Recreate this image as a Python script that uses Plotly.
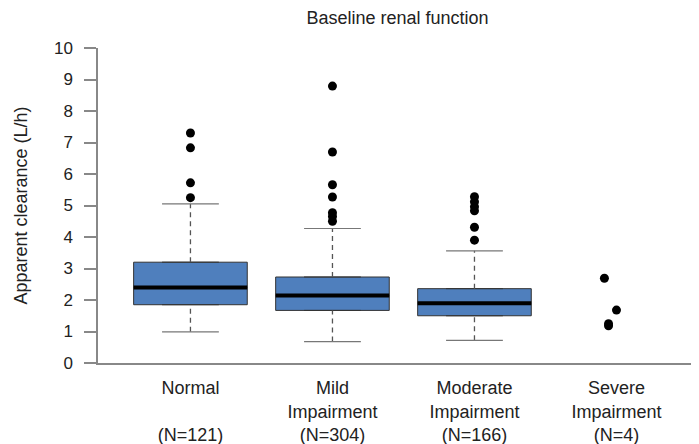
import plotly.graph_objects as go

categories = ["Normal", "Mild<br>Impairment", "Moderate<br>Impairment", "Severe<br>Impairment"]
counts = [121, 304, 166, 4]
positions = [1, 2, 3]  # groups drawn as boxes
q1 = [1.85, 1.67, 1.50]
median = [2.40, 2.14, 1.90]
q3 = [3.20, 2.73, 2.36]
lower_whisker = [0.99, 0.68, 0.72]
upper_whisker = [5.05, 4.27, 3.56]
outliers = [
    [7.30, 6.83, 5.72, 5.25],
    [8.79, 6.70, 5.66, 5.27, 4.77, 4.65, 4.50],
    [5.28, 5.12, 4.96, 4.83, 4.31, 3.90],
]
severe_values = [2.69, 1.68, 1.25, 1.18]
severe_jitter = [-0.085, 0.0, -0.056, -0.056]
severe_pos = 4

box_color = "#4F7FBD"
box_half = 0.4
cap_half = 0.2

fig = go.Figure()

# whiskers (dashed) and caps (solid)
for p, lo, hi, a, b in zip(positions, lower_whisker, upper_whisker, q1, q3):
    fig.add_trace(go.Scatter(x=[p, p, None, p, p], y=[b, hi, None, lo, a], mode="lines",
                             line=dict(color="#555555", width=1.3, dash="5px,4px"),
                             showlegend=False, hoverinfo="skip"))
    fig.add_trace(go.Scatter(x=[p - cap_half, p + cap_half, None, p - cap_half, p + cap_half],
                             y=[hi, hi, None, lo, lo], mode="lines",
                             line=dict(color="#777777", width=1.2),
                             showlegend=False, hoverinfo="skip"))

# boxes
fig.add_trace(go.Box(x=positions, q1=q1, median=median, q3=q3,
                     lowerfence=q1, upperfence=q3, width=2 * box_half,
                     fillcolor=box_color, line=dict(color="#333333", width=1),
                     boxpoints=False, showlegend=False, hoverinfo="skip"))

# medians
for p, m in zip(positions, median):
    fig.add_trace(go.Scatter(x=[p - box_half, p + box_half], y=[m, m], mode="lines",
                             line=dict(color="black", width=4),
                             showlegend=False, hoverinfo="skip"))

# outliers
for p, outs in zip(positions, outliers):
    fig.add_trace(go.Scatter(x=[p] * len(outs), y=outs, mode="markers",
                             marker=dict(color="black", size=9),
                             showlegend=False))

fig.add_trace(go.Scatter(x=[severe_pos + j for j in severe_jitter], y=severe_values,
                         mode="markers", marker=dict(color="black", size=9),
                         showlegend=False))

ticktext = [f"{c}<br>(N={n})" if "<br>" in c else f"{c}<br> <br>(N={n})"
            for c, n in zip(categories, counts)]

# page body has an 8px margin, so the figure is 8px smaller than the window
fig.update_layout(
    width=691, height=436,
    margin=dict(l=90, r=2, t=40, b=81),
    paper_bgcolor="white", plot_bgcolor="white",
    font=dict(family="Liberation Sans, Arial, sans-serif", color="#222222", size=18),
    title=dict(text="Baseline renal function", xref="paper", x=0.5, xanchor="center",
               y=0.977, yanchor="middle", font=dict(size=18)),
    xaxis=dict(range=[0.349, 4.567], tickvals=[1, 2, 3, 4], ticktext=ticktext,
               showline=True, linecolor="#888888", linewidth=1.5, ticks="",
               ticklabelstandoff=8,
               showgrid=False, zeroline=False, tickfont=dict(size=18), automargin=False),
    yaxis=dict(range=[0, 10], tickvals=list(range(11)), showline=True,
               linecolor="#888888", linewidth=1.5, ticks="outside", ticklen=12,
               tickcolor="#888888", tickwidth=1.5, ticklabelstandoff=8,
               showgrid=False, zeroline=False, tickfont=dict(size=17), automargin=False,
               title=dict(text="Apparent clearance (L/h)", font=dict(size=18), standoff=22)),
)

fig.write_html("out.html")
